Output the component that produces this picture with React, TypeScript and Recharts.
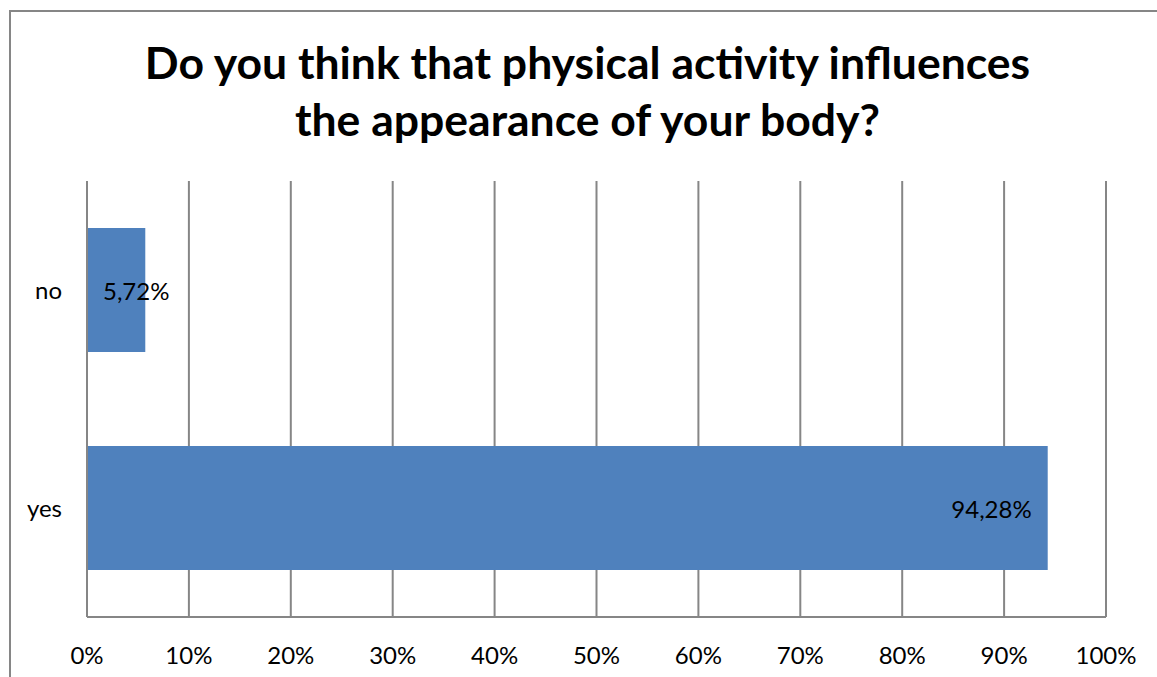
import React from 'react';
import { BarChart, Bar, XAxis, YAxis, CartesianGrid, LabelList } from 'recharts';

// Survey answers, top to bottom, and their share of respondents (%)
const answers = ['no', 'yes'];
const shares = [5.72, 94.28];
const percentTicks = [0, 10, 20, 30, 40, 50, 60, 70, 80, 90, 100];

const rows = answers.map((answer, i) => ({ answer, share: shares[i] }));

const FONT = 'Lato, "Open Sans", sans-serif';
const GRID = '#868686';
const BAR = '#4F81BD';
const LABEL_SIZE = 24;

const formatShare = (v: number) => `${v.toFixed(2).replace('.', ',')}%`;

// Value label placed inside the bar end; falls back to the bar start when the bar is too short.
const ShareLabel = (props: any) => {
  const { x, y, width, height, value } = props;
  const text = formatShare(Number(value));
  const pad = 16;
  const approxWidth = text.length * LABEL_SIZE * 0.52;
  const fits = width >= approxWidth + 2 * pad;
  const tx = fits ? x + width - pad : x + pad;
  return (
    <text
      x={tx}
      y={y + height / 2}
      textAnchor={fits ? 'end' : 'start'}
      dominantBaseline="central"
      fontFamily={FONT}
      fontSize={LABEL_SIZE}
      fill="#000"
    >
      {text}
    </text>
  );
};

export default function App() {
  return (
    <div
      style={{
        position: 'absolute',
        left: 0,
        top: 0,
        width: 1157,
        height: 677,
        overflow: 'hidden',
        background: '#fff',
      }}
    >
      <div
        style={{
          position: 'absolute',
          left: 9,
          top: 10,
          width: 1300,
          height: 800,
          border: `2px solid ${GRID}`,
          boxSizing: 'border-box',
        }}
      />
      <div
        style={{
          position: 'absolute',
          left: 0,
          top: 33,
          width: 1175,
          textAlign: 'center',
          fontFamily: FONT,
          fontWeight: 700,
          fontSize: 44.5,
          lineHeight: '57px',
          color: '#000',
        }}
      >
        Do you think that physical activity influences
        <br />
        the appearance of your body?
      </div>
      <div style={{ position: 'absolute', left: 0, top: 0 }}>
        <BarChart
          width={1157}
          height={677}
          data={rows}
          layout="vertical"
          margin={{ top: 181, right: 51, bottom: 0, left: 0 }}
        >
          <CartesianGrid horizontal={false} stroke={GRID} strokeWidth={2} />
          <XAxis
            type="number"
            domain={[0, 100]}
            ticks={percentTicks}
            tickFormatter={(v: number) => `${v}%`}
            interval={0}
            height={60}
            axisLine={{ stroke: GRID, strokeWidth: 2 }}
            tickLine={false}
            tickSize={0}
            tickMargin={30}
            tick={{ fill: '#000', fontFamily: FONT, fontSize: LABEL_SIZE }}
          />
          <YAxis
            type="category"
            dataKey="answer"
            width={87}
            axisLine={{ stroke: GRID, strokeWidth: 2 }}
            tickLine={false}
            tickSize={0}
            tickMargin={25}
            tick={{ fill: '#000', fontFamily: FONT, fontSize: LABEL_SIZE }}
          />
          <Bar dataKey="share" fill={BAR} barSize={124} isAnimationActive={false}>
            <LabelList dataKey="share" content={ShareLabel} />
          </Bar>
        </BarChart>
      </div>
    </div>
  );
}
